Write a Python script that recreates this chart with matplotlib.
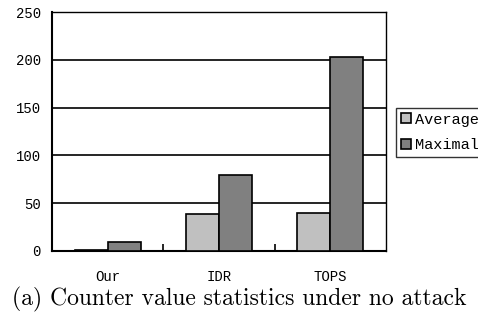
import matplotlib.pyplot as plt
import numpy as np

categories = ["Our", "IDR", "TOPS"]
average = [1, 39, 40]
maximal = [9, 80, 203]
yticks = [0, 50, 100, 150, 200, 250]

mono = "Liberation Mono"

fig = plt.figure(figsize=(4.78, 3.22), dpi=100)
ax = fig.add_axes([52 / 478, 71 / 322, 334 / 478, 239 / 322])

x = np.arange(len(categories))
w = 0.295
ax.bar(x - w / 2, average, w, color="#c0c0c0", edgecolor="black", linewidth=1.2,
       label="Average", zorder=3)
ax.bar(x + w / 2, maximal, w, color="#808080", edgecolor="black", linewidth=1.2,
       label="Maximal", zorder=3)

ax.set_xlim(-0.5, len(categories) - 0.5)
ax.set_ylim(0, 250)
ax.set_yticks(yticks)
ax.set_yticklabels([str(v) for v in yticks], fontfamily=mono, fontsize=10)
ax.set_xticks(x)
ax.set_xticklabels(categories, fontfamily=mono, fontsize=10)
ax.set_xticks([0.5, 1.5], minor=True)
ax.tick_params(axis="x", which="major", length=0, pad=14)
ax.tick_params(axis="x", which="minor", direction="in", length=5, width=1.2)
ax.tick_params(axis="y", length=0, pad=8)
ax.yaxis.grid(True, color="black", linewidth=1.2, zorder=1)

for side in ["left", "bottom"]:
    ax.spines[side].set_linewidth(1.5)
for side in ["top", "right"]:
    ax.spines[side].set_linewidth(1.0)

# legend runs past the right edge of the canvas
leg = fig.legend(loc="upper left", bbox_to_anchor=(396 / 478, 1 - 108 / 322),
                 prop={"family": mono, "size": 11}, frameon=True, fancybox=False,
                 handlelength=0.65, handleheight=0.65, handletextpad=0.3,
                 borderpad=0.3, labelspacing=0.75, borderaxespad=0)
leg.get_frame().set_edgecolor("black")
leg.get_frame().set_linewidth(1.0)

fig.text(0.5, 1 - 299 / 322, "(a) Counter value statistics under no attack",
         ha="center", va="center", fontfamily="cmr10", fontsize=17)

fig.savefig("out.png", dpi=100)
